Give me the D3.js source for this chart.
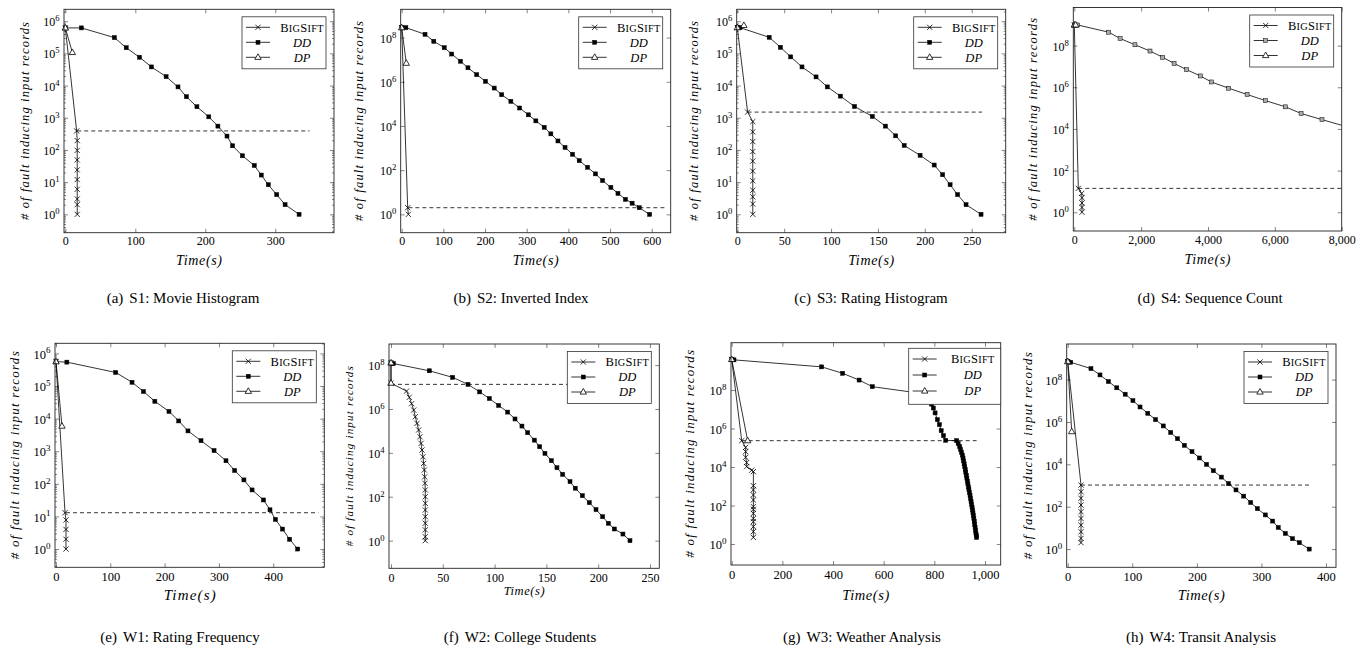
<!DOCTYPE html>
<html><head><meta charset="utf-8">
<script src="https://cdn.jsdelivr.net/npm/d3@7"></script>
<style>
body{margin:0;background:#fff;}
svg text{font-family:"Liberation Serif","Times New Roman","DejaVu Serif",serif;}
</style></head><body>
<svg id="fig" width="1370" height="649" font-family="Liberation Serif, Times New Roman, serif"></svg>
<script>
// ---------------- DATA: [time (s), # of fault inducing input records] ----------------
const S1_BigSift = [[0,6.2e5],[16.2,390],[17,195],[17,97],[17,49],[17,24],[17,12],[17,6],[17,3],[17,2],[17,1]];
const S1_DD = [[0,6.2e5],[23,6.2e5],[70,3.1e5],[87,1.5e5],[106,7.6e4],[123,3.8e4],[144,1.9e4],[161,9100],[173,4500],[188,2200],[205,1070],[218,550],[231,270],[239,135],[253,66],[270,33],[280,16.6],[290,8.3],[302,4.1],[314,2],[334,1]];
const S1_DP = [[0,6.2e5],[10,1.07e5]];
const S1_Cut = [[17,390],[349,390]];

const S2_BigSift = [[0,2.8e8],[14.4,2],[16,1]];
const S2_DD = [[0,2.8e8],[10,2.8e8],[56,1.41e8],[77,6.8e7],[102,3.5e7],[120,1.8e7],[141,8.5e6],[159,4.3e6],[180,2.1e6],[201,1.05e6],[222,5.2e5],[240,2.6e5],[262,1.3e5],[283,6.5e4],[304,3.2e4],[322,1.7e4],[342,8700],[358,4400],[375,2100],[392,1070],[410,525],[426,270],[446,135],[465,68],[482,34],[502,16.6],[519,8.9],[537,4.8],[553,3.2],[570,2],[595,1]];
const S2_DP = [[0,2.8e8],[11,6.9e6]];
const S2_Cut = [[16,2],[632,2]];

const S3_BigSift = [[0,6.3e5],[11,1500],[16.5,760],[16.5,365],[16.5,182],[16.5,89],[16.5,45],[16.5,22],[16.5,11],[16.5,5.6],[16.5,3.5],[16.5,2.1],[16.5,1]];
const S3_DD = [[0,6.3e5],[3,6.3e5],[34,3.16e5],[46,1.55e5],[57,7.8e4],[69,3.8e4],[84,1.86e4],[96,9100],[110,4700],[125,2240],[144,1100],[158,550],[169,275],[178,138],[195,68],[210,34],[219,17],[227,8.3],[235,4.1],[244,2],[260,1]];
const S3_DP = [[0,6.3e5],[7,7.4e5]];
const S3_Cut = [[11,1500],[261,1500]];

const S4_BigSift = [[0,9.8e8],[120,14],[220,8],[230,5],[230,2.8],[230,1.7],[230,1]];
const S4_DD = [[0,9.8e8],[100,9.8e8],[1030,4.4e8],[1370,2.2e8],[1815,1.1e8],[2265,5.5e7],[2645,2.75e7],[2985,1.4e7],[3360,7e6],[3770,3.5e6],[4100,1.8e6],[4620,9e5],[5170,4.5e5],[5715,2.3e5],[6315,1.15e5],[6785,5.5e4],[7410,2.8e4],[8400,9800]];
const S4_DP = [[0,9.8e8],[40,9.8e8]];
const S4_Cut = [[120,14],[8000,14]];

const W1_BigSift = [[0,5.6e5],[16.6,13],[18.4,7.8],[18.4,4],[18.4,2],[18.4,1]];
const W1_DD = [[0,5.6e5],[20,5.4e5],[110,2.6e5],[140,1.3e5],[161,6.8e4],[182,3.4e4],[208,1.66e4],[226,8500],[243,4200],[267,2100],[291,1050],[313,510],[329,257],[346,132],[361,65],[382,32],[394,16],[404,8.1],[417,4.1],[430,2],[445,1]];
const W1_DP = [[0,5.6e5],[11,5900]];
const W1_Cut = [[18.4,13],[483,13]];

const W2_BigSift = [[0,1.26e8],[0,1.5e7],[15,6.5e6],[17.7,3.4e6],[19.9,1.74e6],[21.9,8.9e5],[23.5,4.4e5],[25.1,2.2e5],[26.7,1.1e5],[28,5.4e4],[29,2.7e4],[29.9,1.35e4],[30.9,6600],[31.5,3300],[32.2,1660],[32.5,810],[32.8,410],[33.1,204],[33.1,100],[33.1,50],[33.1,25],[33.1,12.3],[33.1,6.2],[33.1,3.1],[33.1,1.5],[33.1,1]];
const W2_DD = [[0,1.26e8],[2.3,1.17e8],[37,5.5e7],[59.5,2.75e7],[74.3,1.32e7],[85.6,6e6],[94.9,3e6],[103.9,1.45e6],[112.6,7.2e5],[119.7,3.5e5],[126.4,1.66e5],[131.9,8.3e4],[138.4,3.8e4],[143.5,1.9e4],[148.6,9500],[154.8,4400],[160.2,2100],[165.7,1050],[172.8,490],[177.9,245],[184.7,112],[191.4,54],[197.9,26],[204.3,12.3],[209.8,6.2],[215.6,3.4],[223.9,2],[230.7,1]];
const W2_DP = [[0,1.26e8],[0,1.5e7]];
const W2_Cut = [[0,1.32e7],[250,1.32e7]];

const W3_BigSift = [[0,3.9e9],[39.5,2.34e5],[55,1.05e5],[55,6.3e4],[55,3.2e4],[59,1.7e4],[59,1.05e4],[79,6900],[85.5,5750],[85.5,1070],[85.5,650],[85.5,355],[85.5,195],[85.5,87],[85.5,63],[85.5,39],[85.5,21],[85.5,14.5],[85.5,8],[85.5,4.4],[85.5,2.2]];
const W3_DD = [[0,3.9e9],[9,3.7e9],[355,1.6e9],[438,7.4e8],[503,3.3e8],[555,1.5e8],[775,6e7],[789,1.86e7],[796,1.17e7],[803,6.5e6],[812,2.9e6],[820,1.6e6],[827,7.8e5],[836,4.3e5],[845,2.45e5],[888,2.34e5],[894,1.66e5],[900,1.175e5],[903.5,8.32e4],[907,5.89e4],[910.5,4.17e4],[913.3,2.95e4],[915.5,2.09e4],[917.7,1.48e4],[919.8,1.05e4],[922,7400],[924.1,5250],[926.3,3720],[928.4,2630],[930.5,1860],[932.5,1320],[934.5,933],[936.5,661],[938.5,468],[941,331],[943,234],[945,166],[947,117],[949,83],[951,59],[952.5,42],[954,30],[956,21],[957.7,15],[959.5,10.5],[961,7.4],[962.5,5.2],[964.2,3.7],[965.8,2.8],[967,2.2]];
const W3_DP = [[0,3.9e9],[63,2.34e5]];
const W3_Cut = [[39.5,2.34e5],[967,2.34e5]];

const W4_BigSift = [[0,7.1e8],[20.6,1050],[20.6,510],[20.6,250],[20.6,120],[20.6,58],[20.6,28],[20.6,13.5],[20.6,6.6],[20.6,3.2],[20.6,2]];
const W4_DD = [[0,7.1e8],[4.6,6.6e8],[36,3.3e8],[50,1.66e8],[63,8.1e7],[76,4.1e7],[89,2.04e7],[101,1.02e7],[112,5.1e6],[124,2.57e6],[136,1.29e6],[148,6.5e5],[159.5,3.2e5],[170,1.62e5],[180.6,7.9e4],[192.5,4e4],[204,2e4],[215,1e4],[225.5,5000],[238,2500],[249,1230],[260.6,620],[272.5,316],[283.4,158],[293.7,81],[306,41],[317.4,21],[326,10.5],[337,5.5],[348,3.1],[358.7,2],[374,1]];
const W4_DP = [[0,7.1e8],[6.2,3.5e5]];
const W4_Cut = [[20.6,1050],[378,1050]];

// tick values
const S1_xTicks = [0,100,200,300];
const S2_xTicks = [0,100,200,300,400,500,600];
const S3_xTicks = [0,50,100,150,200,250];
const S4_xTicks = [0,2000,4000,6000,8000];
const W1_xTicks = [0,100,200,300,400];
const W2_xTicks = [0,50,100,150,200,250];
const W3_xTicks = [0,200,400,600,800,1000];
const W4_xTicks = [0,100,200,300,400];
const yExpEvery1 = [0,1,2,3,4,5,6];
const yExpEvery2 = [0,2,4,6,8];

const seriesNames = ["BigSift","DD","DP"];
const captions = ["(a)|S1: Movie Histogram","(b)|S2: Inverted Index","(c)|S3: Rating Histogram","(d)|S4: Sequence Count",
                  "(e)|W1: Rating Frequency","(f)|W2: College Students","(g)|W3: Weather Analysis","(h)|W4: Transit Analysis"];
const yTitle = "# of fault inducing input records";
const xTitle = "Time(s)";

// ---------------- LAYOUT ----------------
const leg0 = {R:8, W:84, T:7.5, H:52, r0:10.5, gap:15};
const panels = [
 {cap:0, big:S1_BigSift, dd:S1_DD, dp:S1_DP, cut:S1_Cut, xt:S1_xTicks, ye:yExpEvery1, minor:true, L:64, R:334, T:9.3, B:232.7, xd:[-1.9,383.9], yd:[-0.571,6.37], fs:12, xpad:3.5, tOff:32.5, tfs:14, tlen:46, ylx:39, ylen:198, ylfs:12.5, cx:183, cy:303, leg:leg0},
 {cap:1, big:S2_BigSift, dd:S2_DD, dp:S2_DP, cut:S2_Cut, xt:S2_xTicks, ye:yExpEvery2, minor:false, L:400.7, R:670.7, T:9.3, B:232.7, xd:[-2.4,645.6], yd:[-0.83,9.28], fs:12, xpad:3.5, tOff:32.5, tfs:14, tlen:46, ylx:41.7, ylen:200, ylfs:12.5, cx:521, cy:303, leg:leg0},
 {cap:2, big:S3_BigSift, dd:S3_DD, dp:S3_DP, cut:S3_Cut, xt:S3_xTicks, ye:yExpEvery1, minor:true, L:736.7, R:1005.7, T:9.3, B:232.7, xd:[-0.64,286.3], yd:[-0.571,6.37], fs:12, xpad:3.5, tOff:32.5, tfs:14, tlen:46, ylx:42.7, ylen:200, ylfs:12.5, cx:871, cy:303, leg:leg0},
 {cap:3, big:S4_BigSift, dd:S4_DD, dp:S4_DP, cut:S4_Cut, xt:S4_xTicks, ye:yExpEvery2, minor:false, L:1073.3, R:1341.7, T:7.5, B:231, xd:[-30,8000], yd:[-0.9,9.83], fs:12, xpad:4.3, tOff:33, tfs:14, tlen:46, ylx:40.3, ylen:203, ylfs:12.5, cx:1210, cy:303, leg:leg0, ddFill:"#aaaaaa"},
 {cap:4, big:W1_BigSift, dd:W1_DD, dp:W1_DP, cut:W1_Cut, xt:W1_xTicks, ye:yExpEvery1, minor:true, L:55, R:324.3, T:343.3, B:567.3, xd:[-1.84,494], yd:[-0.56,6.31], fs:12.5, xpad:4.8, tOff:33, tfs:15, tlen:52, ylx:40, ylen:208, ylfs:13, cx:180, cy:642, leg:leg0},
 {cap:5, big:W2_BigSift, dd:W2_DD, dp:W2_DP, cut:W2_Cut, xt:W2_xTicks, ye:yExpEvery2, minor:false, L:389, R:659.3, T:344, B:568.3, xd:[-1.93,259], yd:[-1.26,8.96], fs:12, xpad:5.3, tOff:27, tfs:12.5, tlen:41, ylx:39.7, ylen:180, ylfs:11, cx:520, cy:642, leg:leg0},
 {cap:6, big:W3_BigSift, dd:W3_DD, dp:W3_DP, cut:W3_Cut, xt:W3_xTicks, ye:yExpEvery2, minor:false, L:731, R:1000.7, T:342.7, B:565, xd:[-2.8,1062], yd:[-1.09,10.46], fs:12.5, xpad:5.3, tOff:35, tfs:14.5, tlen:47, ylx:41, ylen:208, ylfs:13, cx:862, cy:642, leg:{R:0, W:92, T:5.6, H:56, r0:10.7, gap:16}},
 {cap:7, big:W4_BigSift, dd:W4_DD, dp:W4_DP, cut:W4_Cut, xt:W4_xTicks, ye:yExpEvery2, minor:false, L:1066.7, R:1336, T:344, B:567.3, xd:[-1.55,415.5], yd:[-0.86,9.68], fs:12.5, xpad:5.3, tOff:33, tfs:14.5, tlen:47, ylx:38.7, ylen:207, ylfs:13, cx:1201, cy:642, leg:leg0}
];

const fig = d3.select("#fig");
const defs = fig.append("defs");
fig.append("rect").attr("width",1370).attr("height",649).attr("fill","#fff");

const CROSS = "M-2.6,-2.6L2.6,2.6M-2.6,2.6L2.6,-2.6";
const TRI = "M0,-3.5L3.2,2.1L-3.2,2.1Z";

function marks(g, data, type, x, y, fill){
  const sel = g.selectAll(null).data(data).join(type==="sq" ? "rect" : "path");
  if (type==="sq") {
    sel.attr("x", d=>x(d[0])-2).attr("y", d=>y(d[1])-2).attr("width",4).attr("height",4)
       .attr("fill", fill||"#000").attr("stroke","#000").attr("stroke-width",0.5);
  } else if (type==="x") {
    sel.attr("transform", d=>`translate(${x(d[0])},${y(d[1])})`).attr("d",CROSS)
       .attr("fill","none").attr("stroke","#000").attr("stroke-width",0.8);
  } else {
    sel.attr("transform", d=>`translate(${x(d[0])},${y(d[1])})`).attr("d",TRI)
       .attr("fill","#fff").attr("stroke","#000").attr("stroke-width",0.8);
  }
}

function styleAxis(s){
  s.attr("font-family",null).attr("font-size",null);
  s.select(".domain").remove();
  s.selectAll(".tick line").attr("stroke","#333").attr("stroke-width",0.6);
}

panels.forEach((p,i)=>{
  const x = d3.scaleLinear().domain(p.xd).range([p.L,p.R]);
  const y = d3.scaleLog().domain([Math.pow(10,p.yd[0]), Math.pow(10,p.yd[1])]).range([p.B,p.T]);
  const W = p.R-p.L, H = p.B-p.T;
  const g = fig.append("g");
  defs.append("clipPath").attr("id","cl"+i).append("rect").attr("x",p.L).attr("y",p.T).attr("width",W).attr("height",H);
  defs.append("clipPath").attr("id","cm"+i).append("rect").attr("x",p.L-4).attr("y",p.T-4).attr("width",W+8).attr("height",H+8);

  // minor log ticks
  if (p.minor) {
    const minors = [];
    for (let e=Math.floor(p.yd[0]); e<=Math.ceil(p.yd[1]); e++)
      for (let k=2;k<=9;k++){ const v=k*Math.pow(10,e); const l=Math.log10(v); if(l>p.yd[0]&&l<p.yd[1]) minors.push(v); }
    g.append("g").attr("transform",`translate(${p.L},0)`).call(d3.axisLeft(y).tickValues(minors).tickSize(-2).tickFormat("")).call(styleAxis);
    g.append("g").attr("transform",`translate(${p.R},0)`).call(d3.axisRight(y).tickValues(minors).tickSize(-2).tickFormat("")).call(styleAxis);
  }
  const yv = p.ye.map(e=>Math.pow(10,e));
  const la = g.append("g").attr("transform",`translate(${p.L},0)`)
    .call(d3.axisLeft(y).tickValues(yv).tickSize(-4).tickPadding(4.5).tickFormat(""))
    .call(styleAxis);
  la.selectAll(".tick text").attr("dy",null).attr("y",p.fs*0.38).attr("font-size",p.fs).attr("fill","#000")
    .each(function(d){
      const t = d3.select(this);
      t.append("tspan").text("10");
      t.append("tspan").attr("dy",-p.fs*0.42).attr("font-size",p.fs*0.72).text(String(Math.round(Math.log10(d))));
    });
  g.append("g").attr("transform",`translate(${p.R},0)`).call(d3.axisRight(y).tickValues(yv).tickSize(-4).tickFormat("")).call(styleAxis);
  const ba = g.append("g").attr("transform",`translate(0,${p.B})`)
    .call(d3.axisBottom(x).tickValues(p.xt).tickSize(-4).tickPadding(p.xpad).tickFormat(d3.format(",")))
    .call(styleAxis);
  ba.selectAll(".tick text").attr("font-size",p.fs).attr("fill","#000");
  g.append("g").attr("transform",`translate(0,${p.T})`).call(d3.axisTop(x).tickValues(p.xt).tickSize(-4).tickFormat("")).call(styleAxis);

  // series
  const line = d3.line().x(d=>x(d[0])).y(d=>y(d[1]));
  const lg = g.append("g").attr("clip-path",`url(#cl${i})`);
  const mg = g.append("g").attr("clip-path",`url(#cm${i})`);
  lg.append("path").attr("d",line(p.cut)).attr("fill","none").attr("stroke","#000").attr("stroke-width",0.8).attr("stroke-dasharray","4,3");
  [p.big,p.dd,p.dp].forEach(data=>{
    lg.append("path").attr("d",line(data)).attr("fill","none").attr("stroke","#000").attr("stroke-width",0.8);
  });
  marks(mg.append("g"), p.big, "x", x, y);
  marks(mg.append("g"), p.dd, "sq", x, y, p.ddFill);
  marks(mg.append("g"), p.dp, "tri", x, y);

  // box
  g.append("rect").attr("x",p.L).attr("y",p.T).attr("width",W).attr("height",H).attr("fill","none").attr("stroke","#222").attr("stroke-width",0.9);

  // legend
  const L = p.leg;
  const x0 = p.R - L.R - L.W, y0 = p.T + L.T;
  const lgd = g.append("g");
  lgd.append("rect").attr("x",x0).attr("y",y0).attr("width",L.W).attr("height",L.H).attr("fill","#fff").attr("stroke","#333").attr("stroke-width",0.8);
  seriesNames.forEach((nm,k)=>{
    const ry = y0 + L.r0 + k*L.gap;
    const sx0 = x0+4, sx1 = x0+28, sc = x0+16;
    lgd.append("line").attr("x1",sx0).attr("x2",sx1).attr("y1",ry).attr("y2",ry).attr("stroke","#000").attr("stroke-width",0.8);
    const mk = lgd.append("g").attr("transform",`translate(${sc},${ry})`);
    if (k===0) mk.append("path").attr("d",CROSS).attr("fill","none").attr("stroke","#000").attr("stroke-width",0.8);
    if (k===1) mk.append("rect").attr("x",-2).attr("y",-2).attr("width",4).attr("height",4).attr("fill",p.ddFill||"#000").attr("stroke","#000").attr("stroke-width",0.5);
    if (k===2) mk.append("path").attr("d",TRI).attr("fill","#fff").attr("stroke","#000").attr("stroke-width",0.8);
    const lfs = 12.5;
    const tx = lgd.append("text").attr("x", x0 + (L.W+32)/2 + 2).attr("y", ry).attr("dy","0.35em").attr("text-anchor","middle").attr("font-size",lfs);
    if (k===0) {
      const small = lfs*0.82;
      tx.attr("letter-spacing",0.3);
      tx.append("tspan").text("B");
      tx.append("tspan").attr("font-size",small).text("IG");
      tx.append("tspan").text("S");
      tx.append("tspan").attr("font-size",small).text("IFT");
    } else {
      tx.attr("font-style","italic").text(nm);
    }
  });

  // axis titles
  g.append("text").attr("transform",`translate(${p.L-p.ylx},${(p.T+p.B)/2}) rotate(-90)`)
    .attr("text-anchor","middle").attr("dy","0.32em").attr("font-style","italic").attr("font-size",p.ylfs)
    .attr("textLength",p.ylen).attr("lengthAdjust","spacing").text(yTitle);
  g.append("text").attr("x",(p.L+p.R)/2).attr("y",p.B+p.tOff).attr("text-anchor","middle")
    .attr("font-style","italic").attr("font-size",p.tfs).attr("textLength",p.tlen).attr("lengthAdjust","spacing").text(xTitle);

  // caption
  const [lab, title] = captions[p.cap].split("|");
  const ct = g.append("text").attr("x",p.cx).attr("y",p.cy).attr("text-anchor","middle").attr("font-size",15);
  ct.append("tspan").text(lab);
  ct.append("tspan").attr("dx",6).text(title);
});
</script>
</body></html>
